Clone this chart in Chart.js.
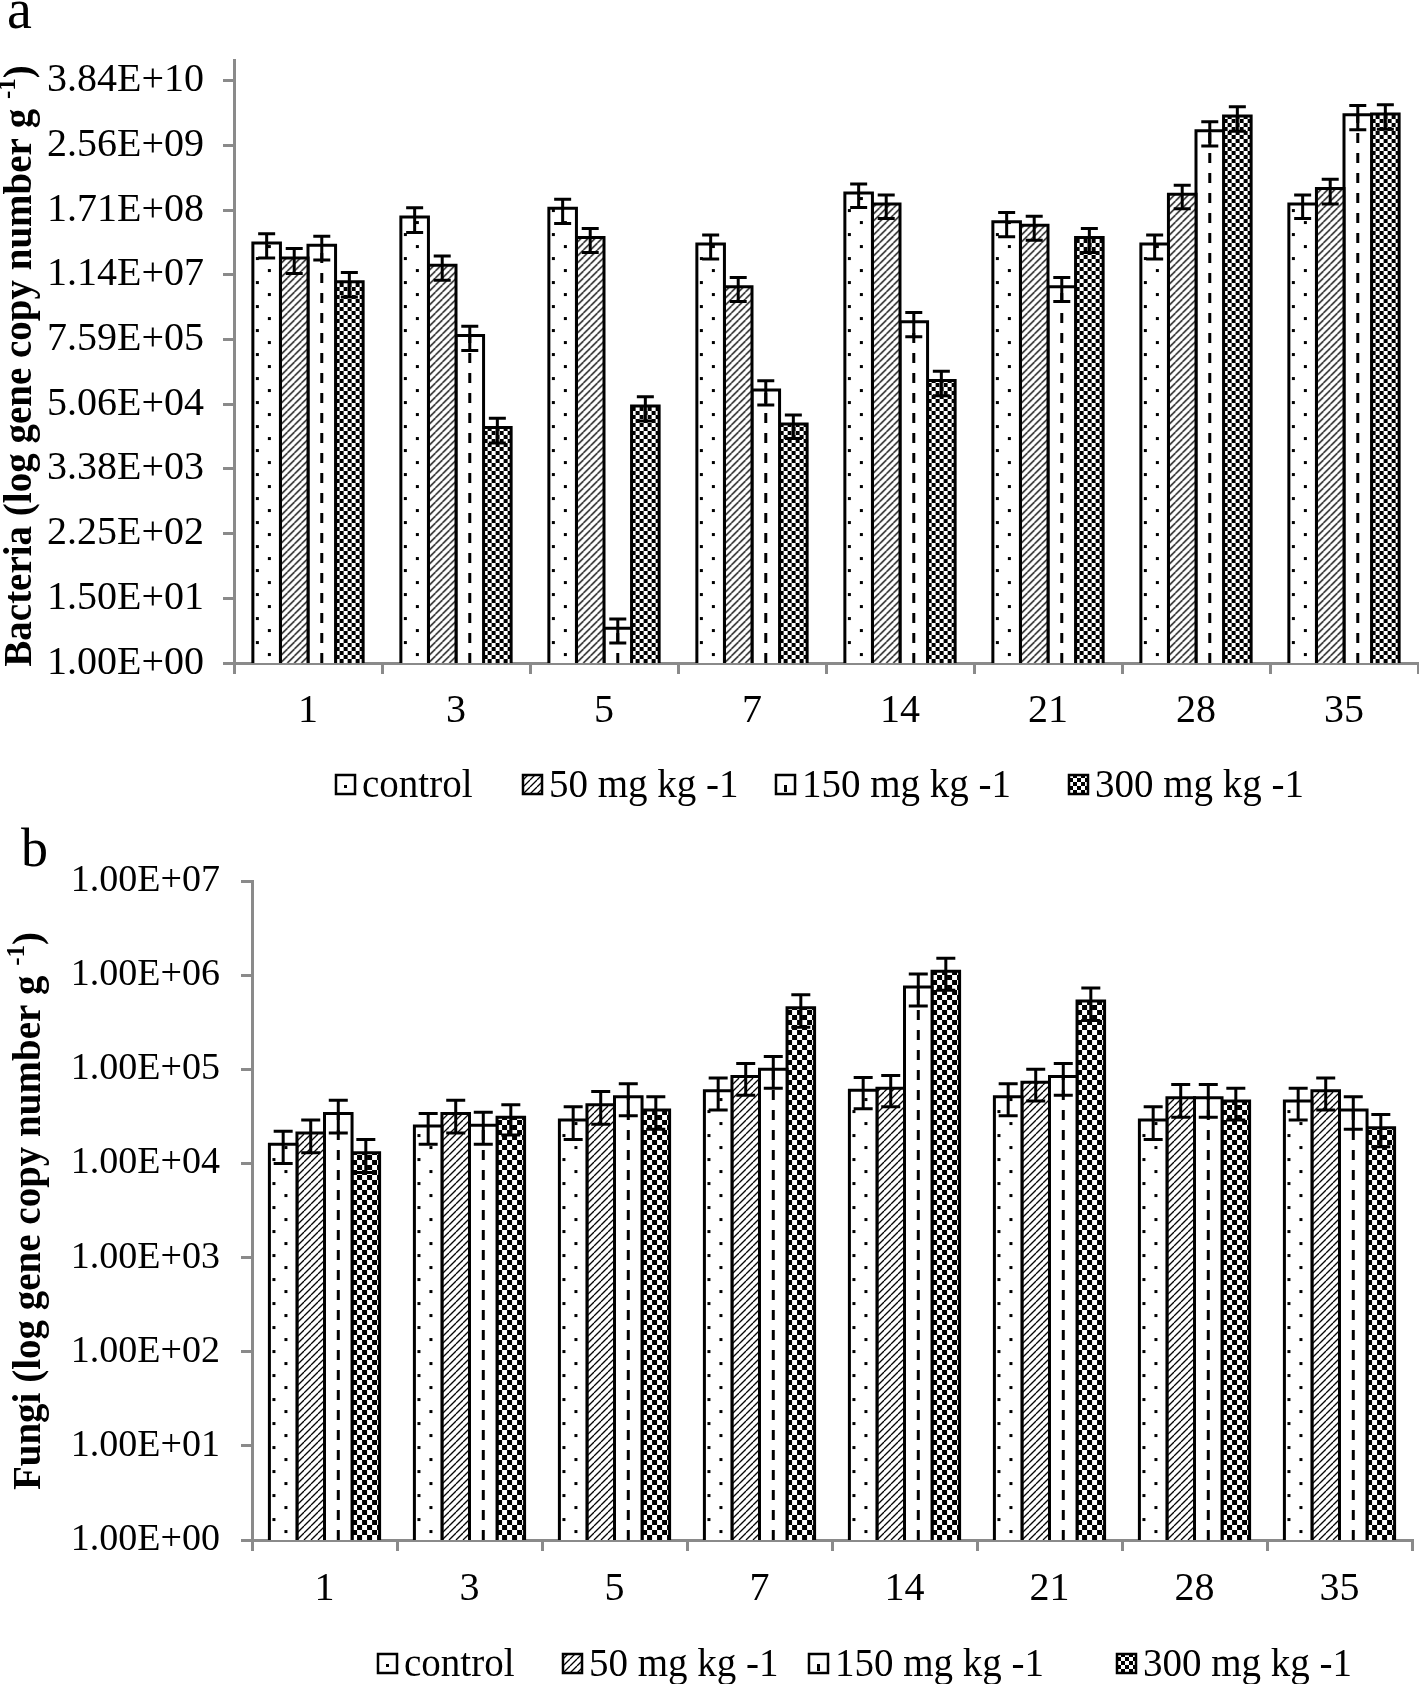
<!DOCTYPE html>
<html><head><meta charset="utf-8">
<script src="https://cdn.jsdelivr.net/npm/chart.js@4.4.1/dist/chart.umd.min.js"></script>
<style>
html,body{margin:0;padding:0;background:#fff;}
#wrap{position:relative;width:1419px;height:1684px;overflow:hidden;}
canvas{display:block;}
</style></head><body>
<div id="wrap">
<canvas id="cA" width="1419" height="820"></canvas>
<canvas id="cB" width="1419" height="864"></canvas>
</div>
<script>
// ---------- data ----------
const days = ["1","3","5","7","14","21","28","35"];
const seriesNames = ["control","50 mg kg -1","150 mg kg -1","300 mg kg -1"];

// (a) Bacteria
const bacControl = [4.3e7, 1.27e8, 1.83e8, 4.1e7, 3.5e8, 1.05e8, 4.1e7, 2.2e8];
const bac50      = [2.3e7, 1.7e7, 5.4e7, 6.9e6, 2.2e8, 9.0e7, 3.3e8, 4.2e8];
const bac150     = [3.9e7, 9.0e5, 4.3, 9.2e4, 1.6e6, 6.9e6, 4.7e9, 9.2e9];
const bac300     = [8.5e6, 1.9e4, 4.7e4, 2.2e4, 1.36e5, 5.4e7, 8.7e9, 9.5e9];
const bacControlErr = [2.0e7, 6.0e7, 8.6e7, 1.9e7, 1.6e8, 4.9e7, 1.9e7, 1.0e8];
const bac50Err      = [1.1e7, 8.0e6, 2.5e7, 3.2e6, 1.0e8, 4.2e7, 1.5e8, 2.0e8];
const bac150Err     = [1.8e7, 4.2e5, 2.0, 4.3e4, 7.5e5, 3.2e6, 2.2e9, 4.3e9];
const bac300Err     = [4.0e6, 9.0e3, 2.2e4, 1.0e4, 6.4e4, 2.5e7, 4.1e9, 4.5e9];
const bacTickValues = [1, 15, 225, 3375, 50625, 759375, 11390625, 170859375, 2562890625, 38443359375];
const bacTickLabels = ["1.00E+00","1.50E+01","2.25E+02","3.38E+03","5.06E+04","7.59E+05","1.14E+07","1.71E+08","2.56E+09","3.84E+10"];

// (b) Fungi
const funControl = [1.6e4, 2.5e4, 2.9e4, 5.9e4, 6.0e4, 5.1e4, 2.9e4, 4.6e4];
const fun50      = [2.1e4, 3.4e4, 4.2e4, 8.4e4, 6.3e4, 7.3e4, 5.0e4, 5.9e4];
const fun150     = [3.4e4, 2.55e4, 5.1e4, 1.0e5, 7.5e5, 8.4e4, 5.0e4, 3.7e4];
const fun300     = [1.3e4, 3.1e4, 3.7e4, 4.5e5, 1.1e6, 5.3e5, 4.6e4, 2.4e4];
const funControlErr = [6.0e3, 9.0e3, 1.1e4, 2.2e4, 2.2e4, 1.9e4, 1.1e4, 1.7e4];
const fun50Err      = [8.0e3, 1.3e4, 1.6e4, 3.1e4, 2.3e4, 2.7e4, 1.9e4, 2.2e4];
const fun150Err     = [1.3e4, 9.5e3, 1.9e4, 3.7e4, 2.8e5, 3.1e4, 1.9e4, 1.4e4];
const fun300Err     = [5.0e3, 1.1e4, 1.4e4, 1.7e5, 4.1e5, 2.0e5, 1.7e4, 9.0e3];
const funTickValues = [1, 10, 100, 1000, 10000, 100000, 1000000, 10000000];
const funTickLabels = ["1.00E+00","1.00E+01","1.00E+02","1.00E+03","1.00E+04","1.00E+05","1.00E+06","1.00E+07"];

// ---------- styling ----------
const FONT = "'Liberation Serif', 'Times New Roman', serif";
const GRAY = '#8a8a8a';
Chart.defaults.font.family = FONT;
Chart.defaults.color = '#000';

function tile(w, h, draw) {
  const c = document.createElement('canvas'); c.width = w; c.height = h;
  const g = c.getContext('2d');
  g.fillStyle = '#fff'; g.fillRect(0, 0, w, h);
  g.fillStyle = '#000'; g.strokeStyle = '#000';
  draw(g); return c;
}
const dotTile = tile(24, 24, g => { g.fillRect(3, 2, 3, 3); g.fillRect(15, 14, 3, 3); });
const hatchTile = tile(7, 7, g => {
  g.lineWidth = 1.3; g.beginPath();
  for (let k = -1; k <= 2; k++) { g.moveTo(k * 7, 7); g.lineTo(k * 7 + 7, 0); }
  g.stroke();
});
function checkTile(s) { return tile(2 * s, 2 * s, g => { g.fillRect(0, 0, s, s); g.fillRect(s, s, s, s); }); }
const kinds = ['dots', 'hatch', 'dash', 'check'];

function paintFill(ctx, kind, l, t, r, b, checkSize) {
  const w = r - l, h = b - t;
  ctx.fillStyle = '#fff'; ctx.fillRect(l, t, w, h);
  if (kind === 'dash') {
    ctx.strokeStyle = '#000'; ctx.lineWidth = 3; ctx.setLineDash([10, 10]);
    ctx.beginPath(); ctx.moveTo(l + w / 2, b); ctx.lineTo(l + w / 2, t); ctx.stroke();
    ctx.setLineDash([]);
    return;
  }
  let src = kind === 'dots' ? dotTile : kind === 'hatch' ? hatchTile : checkTile(checkSize);
  const pat = ctx.createPattern(src, 'repeat');
  ctx.save(); ctx.translate(l, b);
  ctx.fillStyle = pat; ctx.fillRect(0, -h, w, h);
  ctx.restore();
}

const barStyler = {
  id: 'barStyler',
  afterDatasetDraw(chart, args, opts) {
    const ctx = chart.ctx, meta = args.meta;
    const kind = kinds[args.index];
    meta.data.forEach(el => {
      const p = el.getProps(['x', 'y', 'base', 'width'], true);
      const l = p.x - p.width / 2, r = p.x + p.width / 2;
      const t = Math.min(p.y, p.base), b = Math.max(p.y, p.base);
      ctx.save();
      ctx.beginPath(); ctx.rect(l, t, r - l, b - t); ctx.clip();
      paintFill(ctx, kind, l, t, r, b, opts.check);
      ctx.restore();
      ctx.save();
      ctx.strokeStyle = '#000'; ctx.lineWidth = 3; ctx.lineJoin = 'miter';
      ctx.beginPath(); ctx.moveTo(l, b); ctx.lineTo(l, t); ctx.lineTo(r, t); ctx.lineTo(r, b); ctx.stroke();
      ctx.restore();
    });
  },
  afterDatasetsDraw(chart, args, opts) {
    const ctx = chart.ctx, ys = chart.scales.y;
    ctx.save(); ctx.strokeStyle = '#000'; ctx.lineWidth = 3;
    chart.data.datasets.forEach((ds, i) => {
      const meta = chart.getDatasetMeta(i);
      meta.data.forEach((el, j) => {
        const v = ds.data[j], e = ds.err[j];
        const x = el.x;
        const yt = ys.getPixelForValue(v + e), yb = ys.getPixelForValue(Math.max(v - e, 1e-9));
        const c = opts.cap / 2;
        ctx.beginPath();
        ctx.moveTo(x, yt); ctx.lineTo(x, yb);
        ctx.moveTo(x - c, yt); ctx.lineTo(x + c, yt);
        ctx.moveTo(x - c, yb); ctx.lineTo(x + c, yb);
        ctx.stroke();
      });
    });
    ctx.restore();
  }
};

const decor = {
  id: 'decor',
  afterDraw(chart, args, opts) {
    const ctx = chart.ctx;
    ctx.save();
    // panel letter
    ctx.fillStyle = '#000';
    ctx.font = opts.letterSize + 'px ' + FONT; ctx.textBaseline = 'alphabetic'; ctx.textAlign = 'left';
    ctx.fillText(opts.letter, opts.letterX, opts.letterY);
    // y title with superscript
    const main = opts.title, sup = '-1', tail = ')';
    const fMain = 'bold ' + opts.titleSize + 'px ' + FONT, fSup = 'bold ' + Math.round(opts.titleSize * 0.63) + 'px ' + FONT;
    ctx.font = fMain; const w1 = ctx.measureText(main).width, w3 = ctx.measureText(tail).width;
    ctx.font = fSup; const w2 = ctx.measureText(sup).width;
    const total = w1 + w2 + w3;
    ctx.translate(opts.titleX, opts.titleY);
    ctx.rotate(-Math.PI / 2);
    let x = -total / 2;
    ctx.font = fMain; ctx.fillText(main, x, 0); x += w1;
    ctx.font = fSup; ctx.fillText(sup, x, -Math.round(opts.titleSize * 0.4)); x += w2;
    ctx.font = fMain; ctx.fillText(tail, x, 0);
    ctx.restore();

    // legend
    ctx.save();
    ctx.font = opts.legendSize + 'px ' + FONT; ctx.textBaseline = 'alphabetic'; ctx.fillStyle = '#000';
    const by = opts.legendY;
    seriesNames.forEach((name, i) => {
      const s = 19, bx = opts.legendXs[i], byTop = by - 22;
      ctx.save();
      ctx.beginPath(); ctx.rect(bx, byTop, s, s); ctx.clip();
      ctx.fillStyle = '#fff'; ctx.fillRect(bx, byTop, s, s);
      if (kinds[i] === 'dots') { ctx.fillStyle = '#000'; ctx.fillRect(bx + 8, byTop + 10, 3, 3); }
      else if (kinds[i] === 'dash') { ctx.fillStyle = '#000'; ctx.fillRect(bx + 8, byTop + 10, 3, 7); }
      else paintFill(ctx, kinds[i], bx, byTop, bx + s, byTop + s, 4);
      ctx.restore();
      ctx.lineWidth = 2.5; ctx.strokeStyle = '#000'; ctx.strokeRect(bx, byTop, s, s);
      ctx.fillStyle = '#000';
      ctx.fillText(name, bx + s + 7, by);
    });
    ctx.restore();
  }
};

function makeChart(id, cfg) {
  const sets = [cfg.control, cfg.d50, cfg.d150, cfg.d300];
  const errs = [cfg.eControl, cfg.e50, cfg.e150, cfg.e300];
  return new Chart(document.getElementById(id), {
    type: 'bar',
    data: {
      labels: days,
      datasets: sets.map((d, i) => ({
        label: seriesNames[i], data: d, err: errs[i],
        backgroundColor: '#fff', borderWidth: 0,
        categoryPercentage: cfg.catPct, barPercentage: 1.0
      }))
    },
    options: {
      responsive: false, animation: false, devicePixelRatio: 1,
      layout: { padding: cfg.padding },
      plugins: {
        legend: { display: false }, tooltip: { enabled: false },
        barStyler: { cap: cfg.cap, check: cfg.check },
        decor: cfg.decor
      },
      scales: {
        x: {
          type: 'category', offset: true,
          grid: { offset: true, drawOnChartArea: false, drawTicks: true, tickLength: 11, color: GRAY, lineWidth: 3 },
          border: { display: true, color: GRAY, width: 3 },
          ticks: { font: { size: 40 }, color: '#000', padding: cfg.xPad, maxRotation: 0 },
          afterFit(s) { s.height = 70; }
        },
        y: {
          type: 'logarithmic', min: cfg.min, max: cfg.max,
          grid: { drawOnChartArea: false, drawTicks: true, tickLength: 11, color: GRAY, lineWidth: 3 },
          border: { display: true, color: GRAY, width: 3 },
          ticks: {
            font: { size: cfg.yFont }, color: '#000', padding: cfg.yPad, autoSkip: false,
            callback: (v, i) => cfg.tickLabels[i]
          },
          afterBuildTicks(s) { s.ticks = cfg.tickValues.map(v => ({ value: v })); },
          afterFit(s) { s.width = cfg.yWidth; }
        }
      }
    },
    plugins: [barStyler, decor]
  });
}

makeChart('cA', {
  control: bacControl, d50: bac50, d150: bac150, d300: bac300,
  eControl: bacControlErr, e50: bac50Err, e150: bac150Err, e300: bac300Err,
  tickValues: bacTickValues, tickLabels: bacTickLabels,
  min: 1, max: 9.1e10, yWidth: 234, catPct: 0.745, cap: 17, check: 4, xPad: 13,
  yFont: 40, yPad: 19,
  padding: { top: 60, left: 0, right: 1, bottom: 87 },
  decor: { letter: 'a', letterX: 7, letterY: 28, letterSize: 56,
           title: 'Bacteria (log gene copy number g ', titleX: 31, titleY: 366, titleSize: 39,
           legendXs: [336, 523, 776, 1069], legendY: 797, legendSize: 39 }
});
makeChart('cB', {
  control: funControl, d50: fun50, d150: fun150, d300: fun300,
  eControl: funControlErr, e50: fun50Err, e150: fun150Err, e300: fun300Err,
  tickValues: funTickValues, tickLabels: funTickLabels,
  min: 1, max: 1e7, yWidth: 252, catPct: 0.76, cap: 19, check: 5, xPad: 14,
  yFont: 38, yPad: 21,
  padding: { top: 61, left: 0, right: 7, bottom: 74 },
  decor: { letter: 'b', letterX: 21, letterY: 46, letterSize: 54,
           title: 'Fungi (log gene copy number g ', titleX: 40, titleY: 391, titleSize: 39,
           legendXs: [378, 563, 809, 1117], legendY: 856, legendSize: 39 }
});
</script>
</body></html>
